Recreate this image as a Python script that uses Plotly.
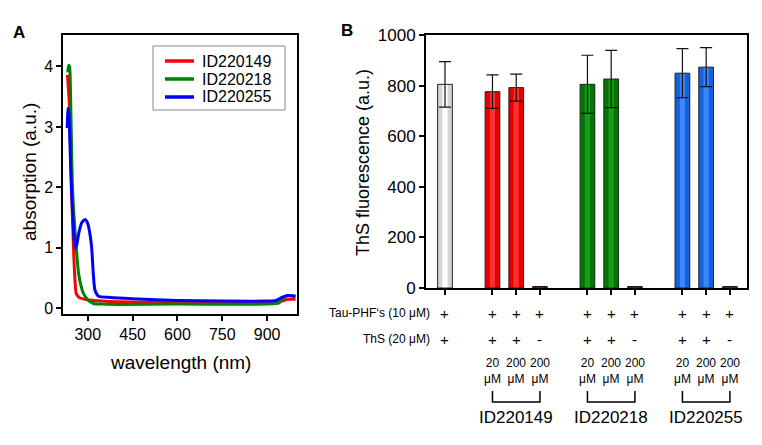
import plotly.graph_objects as go

# ---------------- Panel A data ----------------
wl_red = [232, 238, 244, 248, 252, 256, 261, 267, 274, 290, 320, 400, 500, 600, 750, 900, 940, 955, 970, 995]
abs_red = [3.86, 3.4, 2.3, 1.6, 1.02, 0.55, 0.25, 0.2, 0.17, 0.15, 0.13, 0.11, 0.1, 0.09, 0.09, 0.09, 0.1, 0.13, 0.15, 0.15]

wl_green = [233, 236, 239, 242, 245, 248, 252, 257, 263, 269, 277, 285, 300, 319, 345, 400, 600, 900, 940, 955, 970, 995]
abs_green = [3.9, 4.02, 4.0, 3.6, 2.8, 2.1, 1.65, 1.3, 0.9, 0.58, 0.38, 0.25, 0.14, 0.08, 0.07, 0.065, 0.07, 0.07, 0.09, 0.17, 0.21, 0.2]

wl_blue = [231, 234, 237, 241, 245, 250, 254, 258, 263, 270, 280, 291, 300, 308, 313, 318, 324, 336, 375, 450, 600, 750, 900, 930, 950, 965, 995]
abs_blue = [2.98, 3.31, 3.2, 2.6, 2.0, 1.5, 1.15, 1.0, 1.05, 1.25, 1.42, 1.47, 1.4, 1.2, 1.0, 0.6, 0.3, 0.2, 0.18, 0.16, 0.13, 0.12, 0.12, 0.13, 0.18, 0.21, 0.2]

series_names = ["ID220149", "ID220218", "ID220255"]
series_colors = ["#ff0000", "#008000", "#0000ff"]
x_ticks_a = [300, 450, 600, 750, 900]
y_ticks_a = [0, 1, 2, 3, 4]

# ---------------- Panel B data ----------------
bar_pos = [0, 2, 3, 4, 6, 7, 8, 10, 11, 12]
bar_val = [805, 776, 792, 5, 805, 826, 5, 849, 873, 5]
bar_err = [90, 66, 53, 0, 115, 113, 0, 97, 77, 0]
bar_col = ["#d6d6d6", "#e60000", "#e60000", "#e60000", "#007800", "#007800", "#007800", "#1560dc", "#1560dc", "#1560dc"]
bar_hi = ["#ffffff", "#ff3030", "#ff3030", "#ff3030", "#1a9a1a", "#1a9a1a", "#1a9a1a", "#3a86ff", "#3a86ff", "#3a86ff"]
tau_row = ["+"] * 10
ths_row = ["+", "+", "+", "-", "+", "+", "-", "+", "+", "-"]
conc_row = ["", "20<br>μM", "200<br>μM", "200<br>μM", "20<br>μM", "200<br>μM", "200<br>μM", "20<br>μM", "200<br>μM", "200<br>μM"]
groups = ["ID220149", "ID220218", "ID220255"]
group_span = [(2, 4), (6, 8), (10, 12)]
y_ticks_b = [0, 200, 400, 600, 800, 1000]

W, H = 762, 445
OFF = 8  # page body margin offset
def py(v):
    return 1 - (v - OFF) / H
def px(v):
    return (v - OFF) / W

FONT = "Liberation Sans, Arial, sans-serif"

fig = go.Figure()
for wl, ab, nm, col in zip([wl_red, wl_green, wl_blue], [abs_red, abs_green, abs_blue], series_names, series_colors):
    fig.add_trace(go.Scatter(x=wl, y=ab, name=nm, mode="lines", showlegend=False,
                             line=dict(color=col, width=3, shape="spline", smoothing=0.6),
                             xaxis="x", yaxis="y"))

# bars: base fill, highlight, outline+errors
fig.add_trace(go.Bar(x=bar_pos, y=bar_val, width=0.62, marker=dict(color=bar_col, line=dict(width=0)),
                     xaxis="x2", yaxis="y2", showlegend=False))
fig.add_trace(go.Bar(x=bar_pos, y=bar_val, width=0.22, marker=dict(color=bar_hi, line=dict(width=0)),
                     xaxis="x2", yaxis="y2", showlegend=False))
fig.add_trace(go.Bar(x=bar_pos, y=bar_val, width=0.62,
                     marker=dict(color="rgba(0,0,0,0)", line=dict(color="#222", width=1)),
                     error_y=dict(type="data", array=bar_err, color="#111", thickness=1.2, width=6),
                     xaxis="x2", yaxis="y2", showlegend=False))

ann = []
shapes = []
def text(t, x, y, size, xref="paper", angle=0, xanchor="center"):
    ann.append(dict(text=t, x=x, y=y, xref=xref, yref="paper", showarrow=False, textangle=angle,
                    xanchor=xanchor, yanchor="middle",
                    font=dict(size=size, color="black", family=FONT)))

text("<b>A</b>", px(19), py(32), 17)
text("<b>B</b>", px(347), py(31), 17)
text("absorption (a.u.)", px(30), py(172), 19, angle=-90)
text("wavelength (nm)", px(180), py(362), 19)
text("ThS fluorescence (a.u.)", px(363), py(163), 18, angle=-90)
text("Tau-PHF‘s (10 μM)", px(432), py(313), 12, xanchor="right")
text("ThS (20 μM)", px(432), py(339), 12, xanchor="right")
for p, t1, t2, c in zip(bar_pos, tau_row, ths_row, conc_row):
    text(t1, p, py(313), 15, xref="x2")
    text(t2, p, py(339), 15, xref="x2")
    if c:
        text(c, p, py(371), 12, xref="x2")
for g, (a, b) in zip(groups, group_span):
    text(g, (a + b) / 2, py(417), 17, xref="x2")
    shapes.append(dict(type="path", xref="x2", yref="paper",
                       path=f"M {a} {py(391)} L {a} {py(402)} L {b} {py(402)} L {b} {py(391)}",
                       line=dict(color="black", width=1.5)))

# manual legend box (panel A)
shapes.append(dict(type="rect", xref="paper", yref="paper", x0=px(153), x1=px(285), y0=py(110), y1=py(46),
                   line=dict(color="#888", width=1), fillcolor="white", layer="above"))
for i, (nm, col) in enumerate(zip(series_names, series_colors)):
    yy = py(61 + 18 * i)
    shapes.append(dict(type="line", xref="paper", yref="paper", x0=px(165), x1=px(194), y0=yy, y1=yy,
                       line=dict(color=col, width=3.5), layer="above"))
    text(nm, px(200), yy, 16, xanchor="left")

axis_common = dict(showline=True, mirror=True, linecolor="black", linewidth=2, ticks="outside",
                   ticklen=5, tickwidth=1.5, tickcolor="black", showgrid=False, zeroline=False,
                   automargin=False, tickfont=dict(size=16, color="black", family=FONT))

fig.update_layout(
    width=W, height=H, margin=dict(l=0, r=0, t=0, b=0, autoexpand=False),
    paper_bgcolor="white", plot_bgcolor="white",
    font=dict(family=FONT, color="black"),
    barmode="overlay", showlegend=False,
    xaxis=dict(domain=[px(63.3), px(297)], range=[218, 1000], tickvals=x_ticks_a, anchor="y", **axis_common),
    yaxis=dict(domain=[py(314), py(35)], range=[-0.094, 4.52], tickvals=y_ticks_a, anchor="x", **axis_common),
    xaxis2=dict(domain=[px(426), px(747)], range=[-0.8, 12.72], tickvals=bar_pos, showticklabels=False,
                anchor="y2", **{k: v for k, v in axis_common.items() if k != "tickfont"}),
    yaxis2=dict(domain=[py(288), py(35)], range=[0, 1000], tickvals=y_ticks_b, anchor="x2",
                **{**axis_common, "tickfont": dict(size=17, color="black", family=FONT)}),
    annotations=ann, shapes=shapes,
)
fig.write_html("out.html")
